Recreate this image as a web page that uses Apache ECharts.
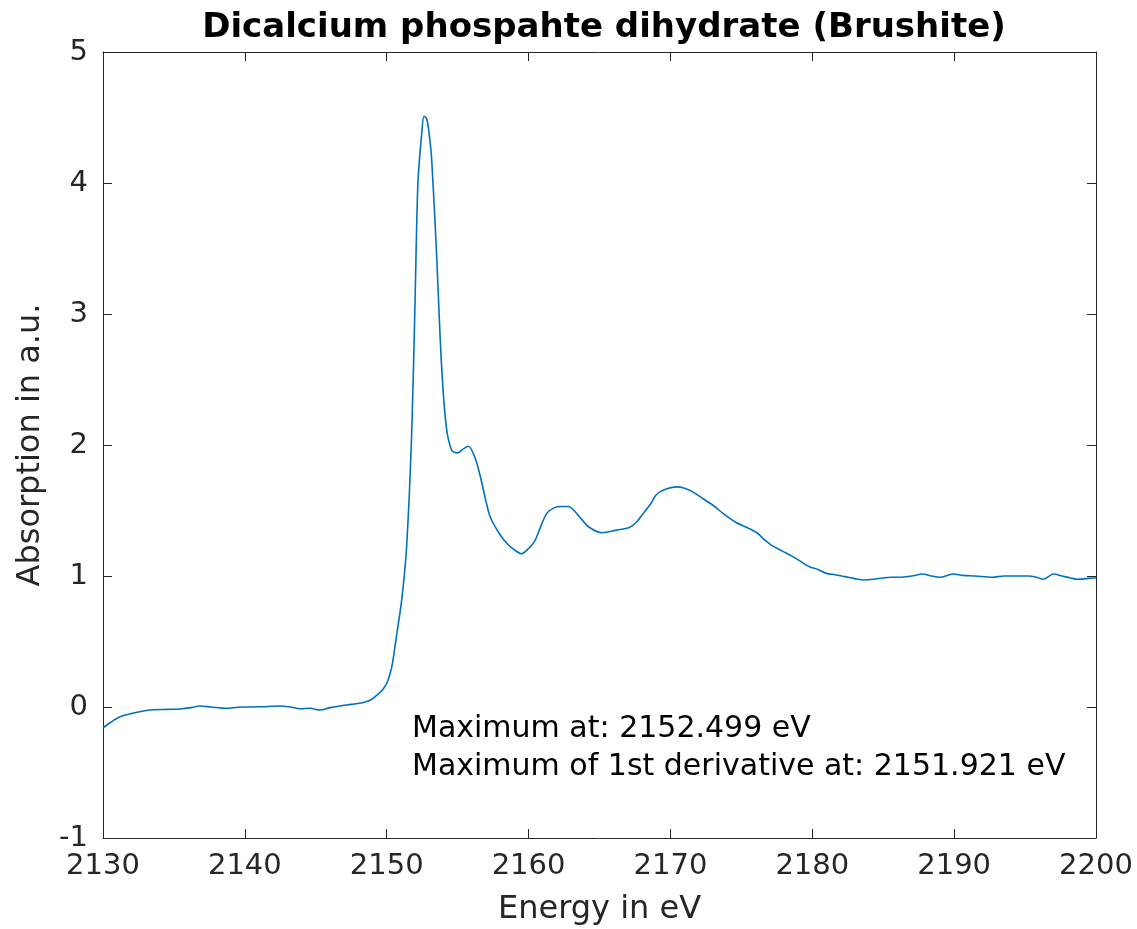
<!DOCTYPE html>
<html>
<head>
<meta charset="utf-8">
<script src="https://cdn.jsdelivr.net/npm/echarts@6/dist/echarts.min.js"></script>
<style>html,body{margin:0;padding:0;background:#fff;}#c{width:1137px;height:929px;}</style>
</head>
<body>
<div id="c"></div>
<script>
const energy = [2130.0,2130.5,2131.2,2132.0,2133.3,2134.5,2135.4,2136.2,2136.8,2137.6,2138.7,2139.5,2140.4,2141.5,2142.5,2143.2,2143.9,2144.6,2145.3,2146.0,2146.7,2147.5,2148.3,2148.9,2149.3,2149.7,2150.0,2150.2,2150.4,2150.7,2151.06,2151.4,2151.76,2152.0,2152.2,2152.47,2152.63,2152.82,2153.0,2153.17,2153.5,2153.87,2154.2,2154.58,2155.0,2155.4,2155.75,2156.2,2156.6,2157.0,2157.3,2157.9,2158.46,2159.0,2159.5,2160.0,2160.45,2160.9,2161.3,2161.8,2162.3,2162.8,2163.2,2163.6,2164.3,2165.2,2166.2,2167.1,2167.6,2168.1,2168.6,2169.0,2169.6,2170.4,2171.0,2171.6,2172.3,2173.0,2173.8,2174.6,2175.4,2176.1,2176.6,2177.2,2177.9,2178.6,2179.2,2179.8,2180.4,2181.0,2181.6,2182.3,2183.0,2183.6,2184.3,2185.0,2185.5,2186.2,2187.0,2187.8,2188.4,2189.0,2189.9,2190.6,2191.5,2192.7,2193.5,2194.5,2195.3,2195.8,2196.3,2197.0,2197.6,2198.2,2198.7,2199.3,2199.8,2200.0];
const absorption = [-0.16,-0.12,-0.075,-0.05,-0.023,-0.018,-0.015,-0.005,0.008,0.0,-0.01,-0.002,0.0,0.003,0.008,0.0,-0.013,-0.01,-0.023,-0.005,0.008,0.02,0.033,0.055,0.09,0.13,0.18,0.24,0.33,0.55,0.82,1.22,2.09,3.11,4.0,4.38,4.51,4.49,4.37,4.18,3.49,2.60,2.14,1.96,1.94,1.97,1.99,1.91,1.76,1.57,1.45,1.33,1.25,1.2,1.17,1.21,1.27,1.39,1.48,1.52,1.53,1.53,1.5,1.45,1.37,1.33,1.35,1.37,1.41,1.48,1.55,1.62,1.66,1.68,1.67,1.64,1.59,1.54,1.47,1.41,1.37,1.33,1.28,1.23,1.19,1.15,1.11,1.07,1.05,1.02,1.01,0.995,0.98,0.97,0.975,0.985,0.99,0.99,1.0,1.015,1.0,0.99,1.015,1.005,1.0,0.99,1.0,1.0,1.0,0.99,0.975,1.015,1.0,0.985,0.975,0.98,0.985,0.985];
const xTicks = [2130,2140,2150,2160,2170,2180,2190,2200];
const yTicks = [-1,0,1,2,3,4,5];
const titleText = 'Dicalcium phospahte dihydrate (Brushite)';
const xName = 'Energy in eV';
const yName = 'Absorption in a.u.';
const annotations = ['Maximum at: 2152.499 eV', 'Maximum of 1st derivative at: 2151.921 eV'];

const FONT = 'DejaVu Sans';
const AX = '#262626';
const chart = echarts.init(document.getElementById('c'), null, {renderer: 'canvas'});
const pts = energy.map((e, i) => [e, absorption[i]]);
const baseX = {
  type: 'value', min: xTicks[0], max: xTicks[xTicks.length - 1], interval: 10,
  axisLine: {show: true, onZero: false, lineStyle: {color: AX, width: 1}},
  axisTick: {show: true, inside: true, length: 9, lineStyle: {color: AX}},
  splitLine: {show: false}
};
const baseY = {
  type: 'value', min: yTicks[0], max: yTicks[yTicks.length - 1], interval: 1,
  axisLine: {show: true, onZero: false, lineStyle: {color: AX, width: 1}},
  axisTick: {show: true, inside: true, length: 9, lineStyle: {color: AX}},
  splitLine: {show: false}
};
chart.setOption({
  backgroundColor: '#ffffff',
  animation: false,
  title: {
    text: titleText, left: 599, textAlign: 'center', top: 6,
    textStyle: {fontFamily: FONT, fontWeight: 'bold', fontSize: 34, color: '#000'}
  },
  grid: {left: 103, top: 52, right: 41, bottom: 91, containLabel: false, outerBoundsMode: 'none'},
  xAxis: [
    Object.assign({}, baseX, {
      position: 'bottom', name: xName, nameLocation: 'middle', nameGap: 56,
      nameTextStyle: {fontFamily: FONT, fontSize: 32, color: AX},
      axisLabel: {show: true, margin: 14, fontFamily: FONT, fontSize: 29, color: AX,
        formatter: v => String(v)}
    }),
    Object.assign({}, baseX, {position: 'top', axisLabel: {show: false}})
  ],
  yAxis: [
    Object.assign({}, baseY, {
      position: 'left', name: yName, nameLocation: 'middle', nameGap: 56,
      nameTextStyle: {fontFamily: FONT, fontSize: 32, color: AX},
      axisLabel: {show: true, margin: 15, fontFamily: FONT, fontSize: 29, color: AX,
        formatter: v => String(v)}
    }),
    Object.assign({}, baseY, {position: 'right', axisLabel: {show: false}})
  ],
  series: [{
    type: 'line', data: pts, xAxisIndex: 0, yAxisIndex: 0,
    showSymbol: false, smooth: 0.3,
    lineStyle: {color: '#0072BD', width: 1.6},
    silent: true
  }],
  graphic: [
    {type: 'text', left: 412, top: 714, style: {text: annotations[0], font: '30px "DejaVu Sans"', fill: '#000'}},
    {type: 'text', left: 412, top: 752, style: {text: annotations[1], font: '30px "DejaVu Sans"', fill: '#000'}}
  ]
});
</script>
</body>
</html>
